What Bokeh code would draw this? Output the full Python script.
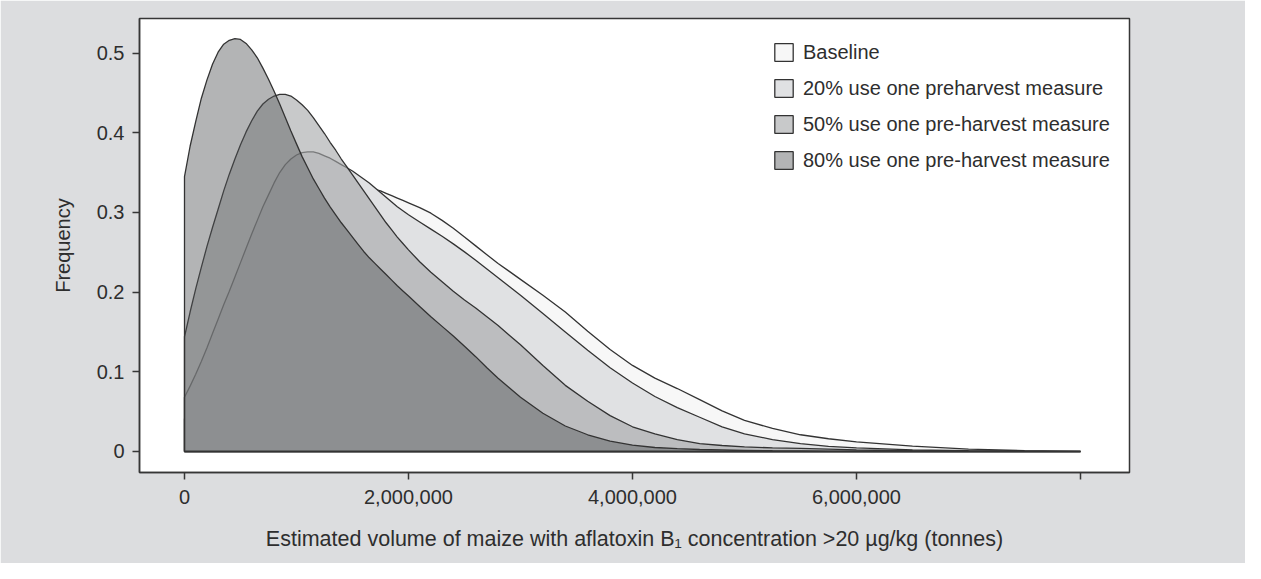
from bokeh.plotting import figure
from bokeh.models import Range1d, FixedTicker, Legend, LegendItem
from bokeh.embed import file_html
from bokeh.resources import INLINE

# ---- data ----
volume_tonnes = [0, 50000, 100000, 150000, 200000, 250000, 300000, 350000, 400000, 450000,
                 500000, 550000, 600000, 650000, 700000, 750000, 800000, 850000, 900000, 950000,
                 1000000, 1050000, 1100000, 1150000, 1200000, 1250000, 1300000, 1350000, 1400000, 1450000,
                 1500000, 1550000, 1600000, 1650000, 1700000, 1750000, 1800000, 1850000, 1900000, 1950000,
                 2000000, 2100000, 2200000, 2300000, 2400000, 2500000, 2600000, 2700000, 2800000, 2900000,
                 3000000, 3200000, 3400000, 3600000, 3800000,
                 4000000, 4200000, 4400000, 4600000, 4800000, 5000000, 5250000, 5500000, 5750000, 6000000,
                 6500000, 7000000, 7500000, 8000000]

baseline = [0.041, 0.052, 0.064, 0.076, 0.088, 0.099, 0.111, 0.122, 0.134, 0.146,
            0.158, 0.170, 0.183, 0.196, 0.209, 0.223, 0.237, 0.251, 0.264, 0.276,
            0.287, 0.297, 0.306, 0.314, 0.321, 0.326, 0.330, 0.333, 0.334, 0.335,
            0.335, 0.334, 0.333, 0.331, 0.329, 0.327, 0.324, 0.321, 0.318, 0.315,
            0.312, 0.306, 0.299, 0.290, 0.280, 0.269, 0.258, 0.247, 0.236, 0.226,
            0.216, 0.196, 0.175, 0.151, 0.128,
            0.108, 0.092, 0.079, 0.065, 0.051, 0.039, 0.029, 0.021, 0.016, 0.012,
            0.0068, 0.003, 0.0012, 0.0]

pre20 = [0.068, 0.082, 0.097, 0.113, 0.130, 0.148, 0.166, 0.184, 0.201, 0.219,
         0.237, 0.255, 0.273, 0.290, 0.307, 0.322, 0.337, 0.350, 0.360, 0.367,
         0.372, 0.375, 0.376, 0.376, 0.374, 0.371, 0.368, 0.364, 0.360, 0.356,
         0.352, 0.347, 0.342, 0.337, 0.331, 0.325, 0.319, 0.313, 0.307, 0.302,
         0.297, 0.288, 0.279, 0.270, 0.2605, 0.2505, 0.240, 0.229, 0.218, 0.207,
         0.196, 0.173, 0.150, 0.127, 0.105,
         0.086, 0.069, 0.055, 0.043, 0.031, 0.022, 0.015, 0.010, 0.0065, 0.0045,
         0.002, 0.001, 0.0004, 0.0]

pre50 = [0.144, 0.175, 0.204, 0.231, 0.257, 0.281, 0.304, 0.327, 0.348, 0.367,
         0.385, 0.401, 0.415, 0.427, 0.436, 0.442, 0.446, 0.448, 0.448, 0.446,
         0.441, 0.435, 0.428, 0.419, 0.409, 0.399, 0.388, 0.378, 0.367, 0.357,
         0.347, 0.337, 0.327, 0.317, 0.307, 0.297, 0.287, 0.278, 0.269, 0.261,
         0.253, 0.238, 0.225, 0.213, 0.201, 0.190, 0.180, 0.169, 0.158, 0.146,
         0.134, 0.108, 0.083, 0.063, 0.045,
         0.031, 0.022, 0.015, 0.010, 0.0075, 0.0058, 0.0046, 0.0038, 0.003, 0.002,
         0.001, 0.0005, 0.0002, 0.0]

pre80 = [0.345, 0.383, 0.414, 0.443, 0.466, 0.486, 0.501, 0.511, 0.516, 0.518,
         0.517, 0.512, 0.504, 0.494, 0.481, 0.467, 0.452, 0.436, 0.419, 0.402,
         0.386, 0.370, 0.356, 0.342, 0.330, 0.318, 0.307, 0.297, 0.287, 0.278,
         0.269, 0.260, 0.251, 0.243, 0.236, 0.229, 0.222, 0.215, 0.208, 0.2015,
         0.195, 0.182, 0.169, 0.157, 0.145, 0.132, 0.119, 0.105, 0.092, 0.080,
         0.068, 0.048, 0.032, 0.021, 0.013,
         0.008, 0.005, 0.0035, 0.0025, 0.002, 0.0015, 0.001, 0.0008, 0.0005, 0.0003,
         0.0002, 0.0001, 0.0, 0.0]

series_labels = ["Baseline",
                 "20% use one preharvest measure",
                 "50% use one pre-harvest measure",
                 "80% use one pre-harvest measure"]

x_ticks = [0, 2000000, 4000000, 6000000, 8000000]
x_tick_labels = ["0", "2,000,000", "4,000,000", "6,000,000", ""]
y_ticks = [0, 0.1, 0.2, 0.3, 0.4, 0.5]
y_tick_labels = ["0", "0.1", "0.2", "0.3", "0.4", "0.5"]

x_title = "Estimated volume of maize with aflatoxin B\u2081 concentration >20 \u00b5g/kg (tonnes)"
y_title = "Frequency"

# ---- styles ----
FONT = "Liberation Sans"
FS = "20px"
TEXT = "#2e2e2e"
DARK = "#363636"
BG = "#dcdddf"
fills = ["#f7f7f7", "#e0e1e3", "#a5a6a8", "#535456"]
alphas = [1.0, 1.0, 0.61, 0.44]

p = figure(width=1245, height=563,
           x_range=Range1d(-401786, 8437500), y_range=Range1d(-0.02635, 0.5433),
           output_backend="svg", toolbar_location=None,
           min_border_left=139, min_border_right=116, min_border_top=18, min_border_bottom=91,
           background_fill_color="white", border_fill_color=BG)

p.outline_line_color = DARK
p.outline_line_width = 1.5
p.xgrid.visible = False
p.ygrid.visible = False

for ax in (p.xaxis[0], p.yaxis[0]):
    ax.axis_line_color = DARK
    ax.axis_line_width = 1.5
    ax.major_tick_line_color = DARK
    ax.major_tick_line_width = 1.5
    ax.major_tick_out = 7
    ax.major_tick_in = 0
    ax.minor_tick_line_color = None
    ax.major_label_text_font = FONT
    ax.major_label_text_font_size = FS
    ax.major_label_text_color = TEXT
    ax.axis_label_text_font = FONT
    ax.axis_label_text_font_size = FS
    ax.axis_label_text_color = TEXT
    ax.axis_label_text_font_style = "normal"

p.xaxis.ticker = FixedTicker(ticks=x_ticks)
p.xaxis.major_label_overrides = dict(zip(x_ticks, x_tick_labels))
p.xaxis.major_label_standoff = 10
p.xaxis.axis_label = x_title
p.xaxis.axis_label_text_font_size = "21.5px"
p.xaxis.axis_label_standoff = 20

p.yaxis.ticker = FixedTicker(ticks=y_ticks)
p.yaxis.major_label_overrides = dict(zip(y_ticks, y_tick_labels))
p.yaxis.major_label_standoff = 8
p.yaxis.axis_label = y_title
p.yaxis.axis_label_standoff = 20

renderers = []
for vals, fc, fa in zip([baseline, pre20, pre50, pre80], fills, alphas):
    xs = [volume_tonnes[0]] + volume_tonnes + [volume_tonnes[-1]]
    ys = [0] + vals + [0]
    r = p.patch(xs, ys, fill_color=fc, fill_alpha=fa, line_color="#333333", line_width=1.3)
    renderers.append(r)

legend = Legend(items=[LegendItem(label=lab, renderers=[r]) for lab, r in zip(series_labels, renderers)],
                location=(633, 299), padding=0, margin=0, spacing=10,
                glyph_width=23, glyph_height=22, label_height=26, label_standoff=8,
                label_text_font=FONT, label_text_font_size=FS, label_text_color=TEXT,
                border_line_color=None, background_fill_alpha=0)
p.add_layout(legend)

open("out.html", "w").write(file_html(p, INLINE))
